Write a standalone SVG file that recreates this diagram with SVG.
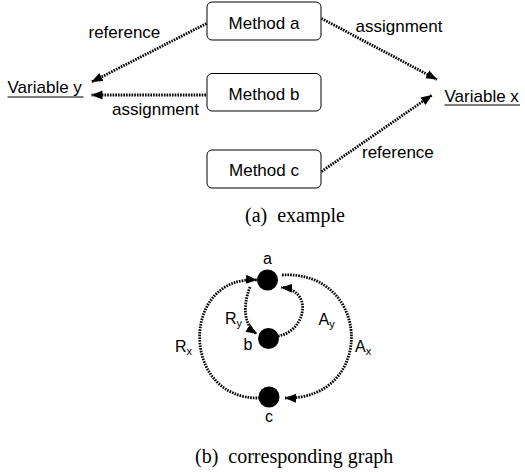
<svg xmlns="http://www.w3.org/2000/svg" width="525" height="472" viewBox="0 0 525 472">
  <style>
    .box { fill: #fff; stroke: #000; stroke-width: 1; }
    .lbl { font-family: "Liberation Sans", Arial, sans-serif; font-size: 17px; fill: #000; }
    .glbl { font-family: "Liberation Sans", Arial, sans-serif; font-size: 16px; fill: #000; }
    .sub { font-size: 11px; }
    .cap { font-family: "Liberation Serif", "Times New Roman", serif; font-size: 20px; fill: #000; }
    .edge { fill: none; stroke: #000; stroke-width: 2.8; stroke-dasharray: 1.6 1.1; marker-end: url(#arrow); }
    .uline { stroke: #000; stroke-width: 1.2; }
    .node { fill: #000; }
  </style>
  <defs>
    <marker id="arrow" markerUnits="userSpaceOnUse" markerWidth="12" markerHeight="10" viewBox="0 0 12 10" refX="11" refY="5" orient="auto">
      <path d="M0,0.5 L11,5 L0,9.5 Z" fill="#000"/>
    </marker>
  </defs>

  <!-- (a) methods and variables -->
  <g id="method-a">
    <rect class="box" x="207" y="2" width="114" height="38" rx="5"/>
    <text class="lbl" x="264" y="28.5" text-anchor="middle">Method a</text>
  </g>
  <g id="method-b">
    <rect class="box" x="207" y="73.5" width="114" height="37.5" rx="5"/>
    <text class="lbl" x="264" y="100" text-anchor="middle">Method b</text>
  </g>
  <g id="method-c">
    <rect class="box" x="207" y="150" width="114" height="38" rx="5"/>
    <text class="lbl" x="264" y="176" text-anchor="middle">Method c</text>
  </g>
  <g id="variable-y">
    <text class="lbl" x="7.5" y="93.3">Variable y</text>
    <line class="uline" x1="7.5" y1="97" x2="83.5" y2="97"/>
  </g>
  <g id="variable-x">
    <text class="lbl" x="444.5" y="101.5">Variable x</text>
    <line class="uline" x1="444.5" y1="105" x2="520" y2="105"/>
  </g>

  <g id="connectors-a">
    <line class="edge" x1="206.5" y1="23.5" x2="91.5" y2="82"/>
    <line class="edge" x1="206" y1="95" x2="91.5" y2="95"/>
    <line class="edge" x1="321.5" y1="18.5" x2="437" y2="79.5"/>
    <line class="edge" x1="321.5" y1="171.5" x2="432" y2="95"/>
    <text class="lbl" x="88.5" y="38.3">reference</text>
    <text class="lbl" x="355.5" y="32">assignment</text>
    <text class="lbl" x="112" y="115">assignment</text>
    <text class="lbl" x="362" y="158.3">reference</text>
  </g>

  <text class="cap" x="245" y="221.7" xml:space="preserve">(a)  example</text>

  <!-- (b) graph -->
  <g id="connectors-b">
    <path class="edge" d="M260,398 C180,400 180,275 257,280"/>
    <path class="edge" d="M282,275 C372,270 376,400 285,398"/>
    <path class="edge" d="M250,287 C243,305 243,325 257,334"/>
    <path class="edge" d="M278,336 C305,332 315,290 281,287.5"/>
    <text class="glbl" x="175" y="352">R<tspan class="sub" dy="3">x</tspan></text>
    <text class="glbl" x="355" y="352">A<tspan class="sub" dy="3">x</tspan></text>
    <text class="glbl" x="225" y="323.5">R<tspan class="sub" dy="3">y</tspan></text>
    <text class="glbl" x="318.5" y="325">A<tspan class="sub" dy="3">y</tspan></text>
  </g>
  <g id="node-a">
    <circle class="node" cx="267.5" cy="280" r="10.5"/>
    <text class="glbl" x="267.5" y="263.5" text-anchor="middle">a</text>
  </g>
  <g id="node-b">
    <circle class="node" cx="268.5" cy="338.5" r="10.5"/>
    <text class="glbl" x="248" y="349.5" text-anchor="middle">b</text>
  </g>
  <g id="node-c">
    <circle class="node" cx="269" cy="397" r="10.5"/>
    <text class="glbl" x="269" y="421.5" text-anchor="middle">c</text>
  </g>

  <text class="cap" x="195" y="463" xml:space="preserve">(b)  corresponding graph</text>
</svg>
